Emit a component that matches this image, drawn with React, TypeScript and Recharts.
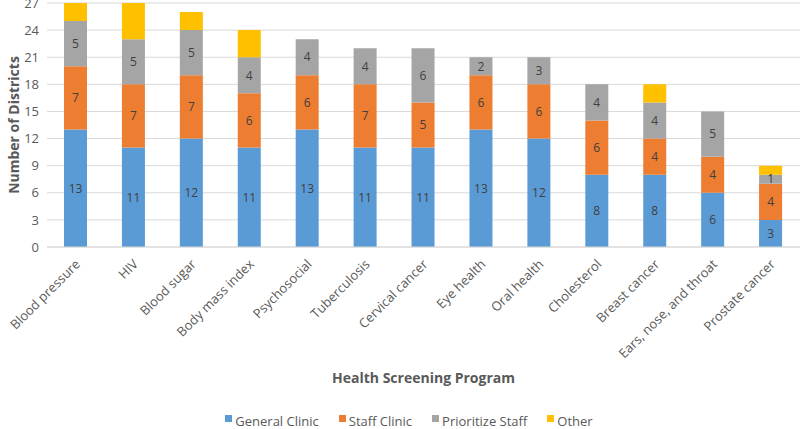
import React from 'react';
import { Bar, BarChart, CartesianGrid, Label, LabelList, Legend, XAxis, YAxis } from 'recharts';

const programs = [
  'Blood pressure',
  'HIV',
  'Blood sugar',
  'Body mass index',
  'Psychosocial',
  'Tuberculosis',
  'Cervical cancer',
  'Eye health',
  'Oral health',
  'Cholesterol',
  'Breast cancer',
  'Ears, nose, and throat',
  'Prostate cancer',
];
const generalClinic = [13, 11, 12, 11, 13, 11, 11, 13, 12, 8, 8, 6, 3];
const staffClinic = [7, 7, 7, 6, 6, 7, 5, 6, 6, 6, 4, 4, 4];
const prioritizeStaff = [5, 5, 5, 4, 4, 4, 6, 2, 3, 4, 4, 5, 1];
const other = [2, 4, 2, 3, 0, 0, 0, 0, 0, 0, 2, 0, 1];
const yTicks = [0, 3, 6, 9, 12, 15, 18, 21, 24, 27];

const data = programs.map((name, i) => ({
  name,
  general: generalClinic[i],
  staff: staffClinic[i],
  prioritize: prioritizeStaff[i],
  other: other[i],
}));

const series = [
  { key: 'general', name: 'General Clinic', color: '#5B9BD5', labels: true },
  { key: 'staff', name: 'Staff Clinic', color: '#ED7D31', labels: true },
  { key: 'prioritize', name: 'Prioritize Staff', color: '#A5A5A5', labels: true },
  { key: 'other', name: 'Other', color: '#FFC000', labels: false },
];

const font = '"Open Sans", "Noto Sans", sans-serif';

const RotatedTick = (props: any) => {
  const { x, y, payload } = props;
  return (
    <g transform={`translate(${x + 5},${y + 10})`}>
      <text transform="rotate(-45)" textAnchor="end" fill="#595959" fontSize={13} fontFamily={font}>
        {payload.value}
      </text>
    </g>
  );
};

const YTitle = (props: any) => {
  const vb = props.viewBox || {};
  const cy = (vb.y || 0) + (vb.height || 0) / 2;
  return (
    <text
      transform={`translate(13,${cy}) rotate(-90)`}
      textAnchor="middle"
      dominantBaseline="central"
      fill="#595959"
      fontSize={14}
      fontWeight="bold"
      fontFamily={font}
    >
      Number of Districts
    </text>
  );
};

const renderLegend = () => (
  <div
    style={{
      display: 'flex',
      justifyContent: 'center',
      height: 22,
      paddingTop: 6,
      boxSizing: 'border-box',
      lineHeight: '16px',
      fontFamily: font,
      fontSize: 13,
      color: '#595959',
      paddingLeft: 18,
    }}
  >
    {series.map((s) => (
      <div key={s.key} style={{ display: 'flex', alignItems: 'flex-start', margin: '0 10px' }}>
        <span style={{ width: 7, height: 7, background: s.color, marginTop: 2, marginRight: 3 }} />
        <span>{s.name}</span>
      </div>
    ))}
  </div>
);

export default function App() {
  return (
    <div style={{ width: 800, height: 429, background: '#fff' }}>
      <style>{'body{margin:0}'}</style>
      <BarChart
        width={800}
        height={429}
        data={data}
        margin={{ top: 3, right: 0, left: 0, bottom: 0 }}
        barSize={23}
      >
        <CartesianGrid vertical={false} stroke="#d9d9d9" />
        <XAxis
          dataKey="name"
          interval={0}
          height={160}
          tick={<RotatedTick />}
          tickLine={false}
          axisLine={{ stroke: '#d9d9d9' }}
        >
          <Label
            value="Health Screening Program"
            position="insideBottom"
            offset={24}
            fill="#595959"
            fontSize={14}
            fontWeight="bold"
            fontFamily={font}
          />
        </XAxis>
        <YAxis
          width={47}
          domain={[0, 27]}
          ticks={yTicks}
          interval={0}
          tickLine={false}
          axisLine={false}
          allowDataOverflow
          tick={{ fill: '#595959', fontSize: 13, fontFamily: font }}
        >
          <Label content={<YTitle />} />
        </YAxis>
        <Legend verticalAlign="bottom" height={22} content={renderLegend} />
        {series.map((s) => (
          <Bar key={s.key} dataKey={s.key} name={s.name} stackId="a" fill={s.color} isAnimationActive={false}>
            {s.labels && (
              <LabelList
                dataKey={s.key}
                position="center"
                fill="#404040"
                fontSize={12}
                fontFamily={font}
                formatter={(v: any) => (v ? v : '')}
              />
            )}
          </Bar>
        ))}
      </BarChart>
    </div>
  );
}
